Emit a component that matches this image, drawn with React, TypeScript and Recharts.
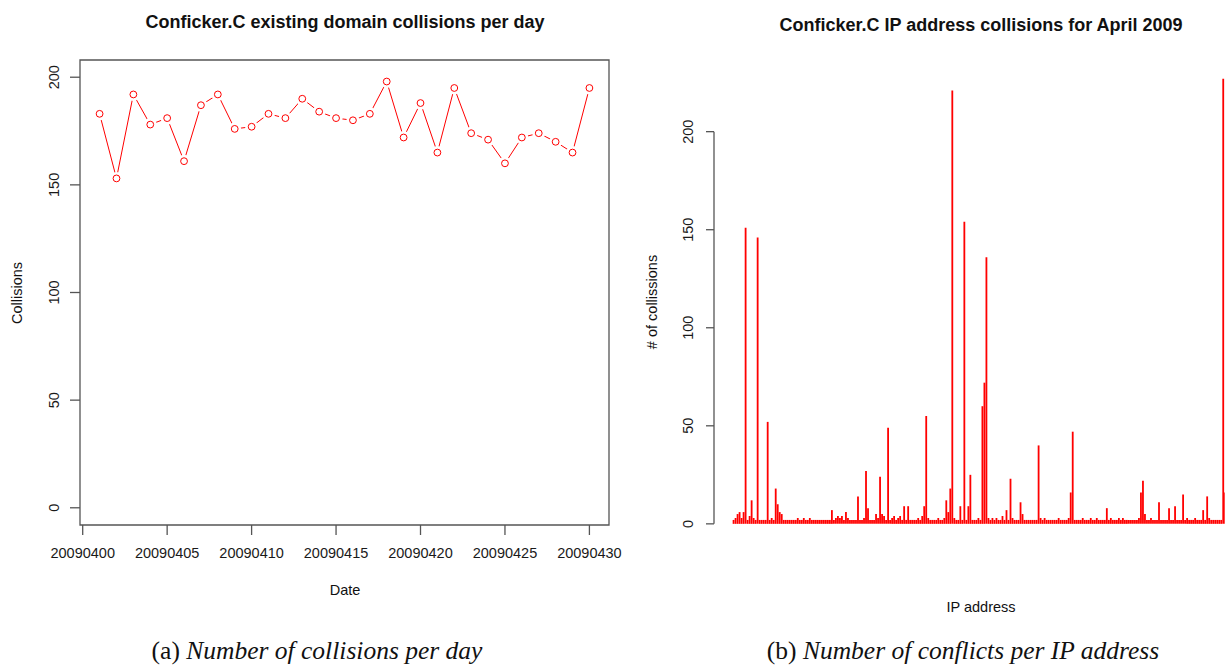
import { Bar, BarChart, Line, LineChart, ReferenceArea, ReferenceLine, XAxis, YAxis } from "recharts";

// (a) collisions per day, April 2009
const days = [
  20090401, 20090402, 20090403, 20090404, 20090405, 20090406, 20090407, 20090408, 20090409, 20090410,
  20090411, 20090412, 20090413, 20090414, 20090415, 20090416, 20090417, 20090418, 20090419, 20090420,
  20090421, 20090422, 20090423, 20090424, 20090425, 20090426, 20090427, 20090428, 20090429, 20090430,
];
const collisions = [
  183, 153, 192, 178, 181, 161, 187, 192, 176, 177,
  183, 181, 190, 184, 181, 180, 183, 198, 172, 188,
  165, 195, 174, 171, 160, 172, 174, 170, 165, 195,
];
const dateTicks = [20090400, 20090405, 20090410, 20090415, 20090420, 20090425, 20090430];
const collisionTicks = [0, 50, 100, 150, 200];

// (b) collisions per IP address (one value per address, in order)
const ipCollisions = [
  2, 3, 5, 6, 3, 6, 151, 2, 4, 12,
  3, 2, 146, 2, 2, 2, 2, 52, 2, 3,
  2, 18, 10, 6, 5, 2, 2, 2, 2, 2,
  2, 2, 3, 2, 2, 3, 2, 2, 3, 2,
  2, 2, 2, 2, 2, 2, 2, 2, 2, 7,
  2, 3, 4, 3, 4, 2, 6, 3, 2, 2,
  2, 2, 14, 2, 2, 3, 27, 8, 2, 2,
  2, 5, 3, 24, 5, 4, 2, 49, 2, 3,
  4, 2, 3, 4, 2, 9, 2, 9, 2, 2,
  2, 2, 3, 2, 4, 9, 55, 3, 2, 2,
  2, 2, 3, 2, 2, 3, 12, 6, 18, 221,
  3, 2, 2, 9, 2, 154, 2, 9, 25, 2,
  2, 2, 3, 2, 60, 72, 136, 3, 2, 3,
  2, 3, 2, 2, 4, 2, 7, 2, 23, 3,
  2, 2, 2, 11, 5, 2, 2, 2, 2, 2,
  2, 2, 40, 3, 2, 3, 2, 2, 2, 2,
  2, 2, 3, 2, 2, 2, 2, 3, 16, 47,
  2, 2, 2, 2, 3, 2, 2, 2, 3, 2,
  2, 3, 2, 2, 2, 2, 8, 2, 3, 2,
  2, 2, 3, 2, 3, 2, 2, 2, 2, 2,
  2, 2, 3, 16, 22, 5, 2, 2, 3, 2,
  2, 2, 11, 2, 2, 2, 2, 8, 2, 2,
  9, 2, 2, 2, 15, 2, 3, 2, 2, 2,
  3, 2, 2, 2, 7, 2, 14, 3, 2, 2,
  2, 2, 2, 2, 227, 16,
];
const ipTicks = [0, 50, 100, 150, 200];

// R style axis ranges (4% padding)
const DATE_MIN = 20090399.84;
const DATE_MAX = 20090431.16;
const COLL_MIN = -8;
const COLL_MAX = 208;
const IP_MIN = -9.8;
const IP_MAX = 254.8;
const IP_YMIN = -9;
const IP_YMAX = 234;

const sans = '"Liberation Sans", Arial, Helvetica, sans-serif';
const RED = "#ff0000";
const AXIS = "#555555";

const dayRows = days.map((d, i) => ({ date: d, collisions: collisions[i] }));
const ipRows = ipCollisions.map((v, i) => ({ ip: i, count: v }));

const RotTick = (offset: number) => (props: any) => {
  const { x, y, payload } = props;
  return (
    <text
      transform={`translate(${x + offset},${y}) rotate(-90)`}
      textAnchor="middle"
      dominantBaseline="central"
      fontFamily={sans}
      fontSize={14.5}
      fill="#1a1a1a"
    >
      {payload.value}
    </text>
  );
};

const DateTick = (props: any) => {
  const { x, y, payload } = props;
  return (
    <text x={x} y={y + 23} textAnchor="middle" fontFamily={sans} fontSize={14.5} fill="#1a1a1a">
      {String(payload.value)}
    </text>
  );
};

const RDot = (props: any) => {
  const { cx, cy, index } = props;
  return (
    <g key={`dot-${index}`}>
      <circle cx={cx} cy={cy} r={6.5} fill="#ffffff" />
      <circle cx={cx} cy={cy} r={3.4} fill="#ffffff" stroke={RED} strokeWidth={1} />
    </g>
  );
};

const Txt = ({ x, y, children, size = 14.5, bold = false, rotate = false }: any) => (
  <div
    style={{
      position: "absolute",
      left: x,
      top: y,
      transform: `translate(-50%,-50%)${rotate ? " rotate(-90deg)" : ""}`,
      fontFamily: sans,
      fontSize: size,
      fontWeight: bold ? "bold" : "normal",
      color: "#111",
      whiteSpace: "nowrap",
      lineHeight: 1,
    }}
  >
    {children}
  </div>
);

const Caption = ({ x, y, tag, text }: any) => (
  <div
    style={{
      position: "absolute",
      left: x,
      top: y,
      transform: "translate(-50%,-50%)",
      fontFamily: '"Liberation Serif", "DejaVu Serif", serif',
      fontSize: 25.5,
      color: "#111",
      whiteSpace: "nowrap",
      lineHeight: 1.1,
    }}
  >
    {tag} <i>{text}</i>
  </div>
);

export default function App() {
  return (
    <div
      style={{
        position: "absolute",
        left: 0,
        top: 0,
        width: 1225,
        height: 668,
        overflow: "hidden",
        background: "#ffffff",
      }}
    >
      <div style={{ position: "absolute", left: 0, top: 0 }}>
        <LineChart width={640} height={620} data={dayRows} margin={{ top: 60, right: 31, bottom: 0, left: 0 }}>
          <XAxis
            dataKey="date"
            type="number"
            domain={[DATE_MIN, DATE_MAX]}
            ticks={dateTicks}
            height={95}
            axisLine={false}
            tickSize={10}
            tickMargin={0}
            tickLine={{ stroke: AXIS, strokeWidth: 1.3 }}
            tick={DateTick}
            interval={0}
          />
          <YAxis
            type="number"
            domain={[COLL_MIN, COLL_MAX]}
            ticks={collisionTicks}
            width={80}
            axisLine={false}
            tickSize={10}
            tickMargin={0}
            tickLine={{ stroke: AXIS, strokeWidth: 1.3 }}
            tick={RotTick(-16.5)}
            interval={0}
          />
          <ReferenceArea
            x1={DATE_MIN}
            x2={DATE_MAX}
            y1={COLL_MIN}
            y2={COLL_MAX}
            fill="none"
            fillOpacity={0}
            stroke={AXIS}
            strokeWidth={1.3}
            ifOverflow="visible"
          />
          <Line
            dataKey="collisions"
            type="linear"
            stroke={RED}
            strokeWidth={1}
            dot={RDot}
            activeDot={false}
            isAnimationActive={false}
          />
        </LineChart>
      </div>

      <div style={{ position: "absolute", left: 620, top: 0 }}>
        <BarChart
          width={640}
          height={620}
          data={ipRows}
          margin={{ top: 65, right: 15, bottom: 78.5, left: 0 }}
          barCategoryGap={0}
        >
          <XAxis dataKey="ip" type="number" domain={[IP_MIN, IP_MAX]} hide />
          <YAxis
            type="number"
            domain={[IP_YMIN, IP_YMAX]}
            ticks={ipTicks}
            width={94}
            axisLine={false}
            tickSize={8}
            tickMargin={0}
            tickLine={{ stroke: AXIS, strokeWidth: 1.3 }}
            tick={RotTick(-18)}
            interval={0}
          />
          <ReferenceLine
            segment={[
              { x: IP_MIN, y: 0 },
              { x: IP_MIN, y: 200 },
            ]}
            stroke={AXIS}
            strokeWidth={1.3}
            ifOverflow="visible"
          />
          <Bar dataKey="count" fill={RED} barSize={2.5} isAnimationActive={false} />
        </BarChart>
      </div>

      <Txt x={345} y={22} size={18} bold>
        Conficker.C existing domain collisions per day
      </Txt>
      <Txt x={17} y={293} rotate>
        Collisions
      </Txt>
      <Txt x={345} y={590}>
        Date
      </Txt>

      <Txt x={981} y={25} size={18} bold>
        Conficker.C IP address collisions for April 2009
      </Txt>
      <Txt x={652} y={302} rotate>
        # of collissions
      </Txt>
      <Txt x={981} y={607}>
        IP address
      </Txt>

      <Caption x={317} y={651} tag="(a)" text="Number of collisions per day" />
      <Caption x={963} y={651} tag="(b)" text="Number of conflicts per IP address" />
    </div>
  );
}
